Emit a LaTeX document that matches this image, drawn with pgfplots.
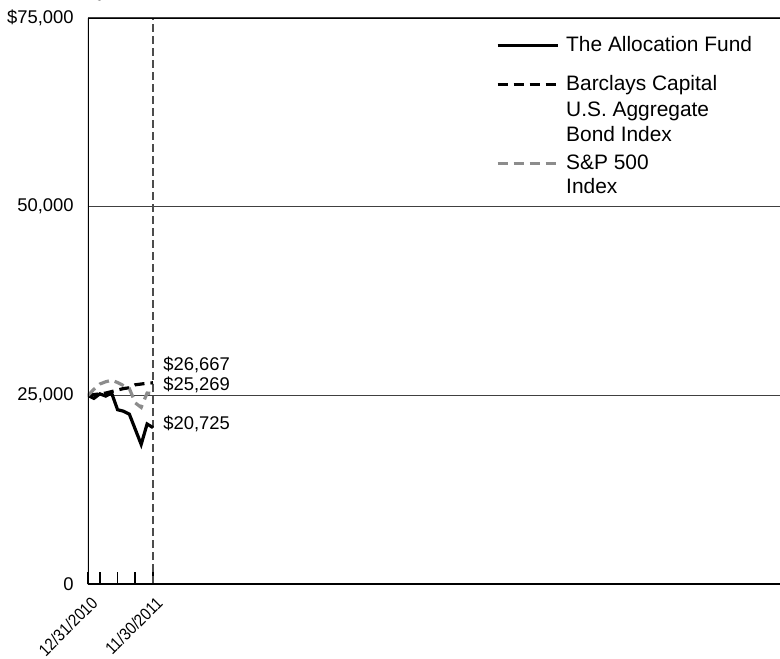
\documentclass[border=0pt]{standalone}
\usepackage{fontspec}
\setmainfont{Liberation Sans}
\newfontfamily\narrowfont[FakeStretch=0.88]{Liberation Sans}
\usepackage{pgfplots}
\pgfplotsset{compat=1.18}
\definecolor{spgray}{RGB}{140,140,140}
\begin{document}
\begin{tikzpicture}
\useasboundingbox (0,0) rectangle (390pt,329pt);
\begin{axis}[
    at={(44pt,37pt)}, anchor=south west,
    scale only axis, width=346pt, height=283pt,
    xmin=0, xmax=117.1, ymin=0, ymax=75000,
    axis line style={draw=none},
    xtick={0,2,5,8,11},
    xticklabels={12/31/2010,,,,11/30/2011},
    xtick pos=bottom, xtick align=inside, major tick length=6pt,
    xtick style={black, line width=0.8pt},
    xticklabel style={xshift=1pt, yshift=-5.5pt, rotate=45, anchor=north east,
        inner sep=0pt, font=\narrowfont\fontsize{8.5}{10}\selectfont},
    ytick={0,25000,50000,75000},
    yticklabels={0,{25,000},{50,000},{\$75,000}},
    ytick pos=left, ytick style={draw=none},
    yticklabel style={inner sep=0pt, xshift=-7pt, font=\fontsize{9.2}{11}\selectfont},
    ymajorgrids, grid style={black!75, line width=0.7pt},
    legend image code/.code={\draw[#1] (0pt,3pt) -- (30pt,3pt);},
    legend style={at={(0.5896,0.968)}, anchor=north west, draw=none, fill=none,
        inner sep=0pt, outer sep=0pt, row sep=0pt, column sep=3.5pt,
        font=\fontsize{10.45}{12}\selectfont,
        cells={anchor=base west},
        nodes={inner sep=0pt, text height=7.5pt, text depth=5pt}},
]
% dashed marker at the last date
\draw[black!70, line width=0.6pt, dash pattern=on 4pt off 2pt] (axis cs:11,0) -- (axis cs:11,75000);

% The Allocation Fund
\addplot[black, line width=1.6pt] coordinates {
    (0,25000) (1,24600) (2,25200) (3,24900) (4,25300) (5,23100)
    (6,22900) (7,22500) (8,20500) (9,18500) (10,21200) (11,20725)
};
\addlegendentry[text depth=12pt]{The Allocation Fund}
% Barclays Capital U.S. Aggregate Bond Index
\addplot[black, line width=1.6pt, dash pattern=on 5pt off 3pt] coordinates {
    (0,25000) (1,25100) (2,25200) (3,25300) (4,25500) (5,25700)
    (6,25900) (7,26000) (8,26400) (9,26500) (10,26600) (11,26667)
};
\addlegendentry[text depth=5.5pt]{Barclays Capital}
\addlegendimage{empty legend}
\addlegendentry[text depth=5pt]{U.S. Aggregate}
\addlegendimage{empty legend}
\addlegendentry[text depth=6.5pt]{Bond Index}
% S&P 500 Index
\addplot[spgray, line width=1.6pt, dash pattern=on 5pt off 3pt] coordinates {
    (0,25000) (1,25800) (2,26500) (3,26800) (4,27000) (5,26700)
    (6,26300) (7,25900) (8,24000) (9,23400) (10,25300) (11,25269)
};
\addlegendentry[text depth=4.5pt]{S\&P 500}
\addlegendimage{empty legend}
\addlegendentry[text depth=4pt]{Index}

\node[anchor=west, inner sep=0pt, font=\fontsize{9.2}{11}\selectfont] at (axis cs:11,26667) [xshift=5pt, yshift=9pt] {\$26,667};
\node[anchor=west, inner sep=0pt, font=\fontsize{9.2}{11}\selectfont] at (axis cs:11,25269) [xshift=5pt, yshift=4pt] {\$25,269};
\node[anchor=west, inner sep=0pt, font=\fontsize{9.2}{11}\selectfont] at (axis cs:11,20725) [xshift=5pt, yshift=2pt] {\$20,725};

% axis frame: left, bottom and top only
\draw[black, line width=1.4pt] (rel axis cs:0,1) -- (rel axis cs:0,0) -- (rel axis cs:1,0);
\draw[black, line width=1.4pt] (rel axis cs:0,1) -- (rel axis cs:1,1);
\end{axis}
\end{tikzpicture}
\end{document}
